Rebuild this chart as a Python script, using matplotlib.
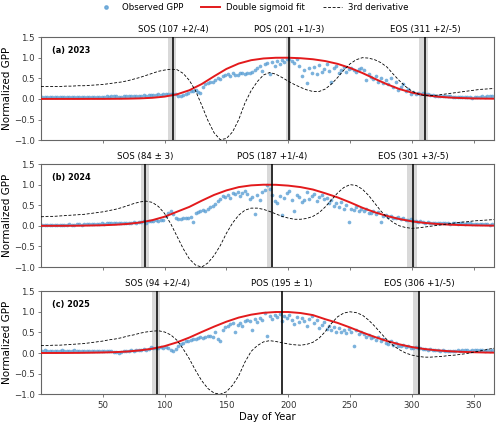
import numpy as np
import matplotlib
matplotlib.use("Agg")
import matplotlib.pyplot as plt
from matplotlib.lines import Line2D
import matplotlib.transforms as mtransforms

# Observed GPP, sampled every 2nd day (day 1, 3, ..., 365)
obs_days = np.arange(1, 366, 2)

obs_2023 = [
    0.04, 0.05, 0.04, 0.05, 0.04, 0.05, 0.04, 0.05, 0.04, 0.04,
    0.05, 0.04, 0.04, 0.05, 0.04, 0.04, 0.05, 0.04, 0.04, 0.05,
    0.05, 0.04, 0.05, 0.04, 0.05, 0.05, 0.06, 0.05, 0.06, 0.07,
    0.06, 0.05, 0.05, 0.06, 0.07, 0.07, 0.06, 0.07, 0.08, 0.07,
    0.08, 0.09, 0.08, 0.09, 0.10, 0.09, 0.10, 0.11, 0.10, 0.12,
    0.12, 0.11, 0.13, 0.12, 0.11, 0.07, 0.06, 0.09, 0.12, 0.15,
    0.18, 0.20, 0.22, 0.17, 0.14, 0.30, 0.35, 0.38, 0.42, 0.40,
    0.45, 0.50, 0.48, 0.55, 0.58, 0.60, 0.55, 0.62, 0.58, 0.57,
    0.62, 0.63, 0.61, 0.64, 0.62, 0.65, 0.70, 0.75, 0.80, 0.68,
    0.85, 0.88, 0.60, 0.90, 0.80, 0.92, 0.85, 0.95, 0.90, 0.97,
    0.98, 0.93, 0.88, 0.96, 0.80, 0.55, 0.70, 0.38, 0.75, 0.62,
    0.78, 0.60, 0.82, 0.65, 0.72, 0.85, 0.68, 0.40, 0.75, 0.80,
    0.62, 0.70, 0.78, 0.65, 0.72, 0.74, 0.70, 0.66, 0.72, 0.75,
    0.70, 0.45, 0.60, 0.52, 0.48, 0.55, 0.42, 0.50, 0.38, 0.45,
    0.35, 0.50, 0.28, 0.42, 0.22, 0.30, 0.35, 0.18, 0.25, 0.12,
    0.16, 0.13, 0.15, 0.12, 0.14, 0.12, 0.11, 0.10, 0.09, 0.08,
    0.08, 0.07, 0.07, 0.06, 0.06, 0.06, 0.05, 0.05, 0.04, 0.05,
    0.04, 0.05, 0.04, 0.04, 0.03, 0.04, 0.05, 0.04, 0.06, 0.05,
    0.06, 0.07, 0.06,
]

obs_2024 = [
    0.03, 0.02, 0.03, 0.02, 0.03, 0.03, 0.02, 0.03, 0.03, 0.02,
    0.03, 0.04, 0.03, 0.03, 0.04, 0.04, 0.03, 0.04, 0.05, 0.04,
    0.05, 0.04, 0.05, 0.05, 0.06, 0.05, 0.06, 0.07, 0.06, 0.07,
    0.07, 0.06, 0.07, 0.08, 0.07, 0.08, 0.07, 0.09, 0.08, 0.10,
    0.09, 0.11, 0.08, 0.12, 0.13, 0.12, 0.14, 0.13, 0.15, 0.14,
    0.25, 0.31, 0.36, 0.28, 0.18, 0.16, 0.17, 0.19, 0.20, 0.18,
    0.21, 0.09, 0.30, 0.33, 0.36, 0.38, 0.35, 0.42, 0.45, 0.48,
    0.52, 0.60, 0.65, 0.72, 0.70, 0.75, 0.68, 0.80, 0.77, 0.83,
    0.73, 0.80, 0.85, 0.78, 0.66, 0.70, 0.29, 0.75, 0.62, 0.82,
    0.86, 0.99, 0.90, 0.76, 0.60, 0.55, 0.72, 0.27, 0.68, 0.80,
    0.84, 0.62, 0.37, 0.75, 0.70, 0.58, 0.63, 0.82, 0.66, 0.72,
    0.78, 0.60, 0.70, 0.74, 0.64, 0.68, 0.56, 0.62, 0.48, 0.55,
    0.45, 0.58, 0.40, 0.50, 0.10, 0.42, 0.38, 0.45, 0.35, 0.40,
    0.36, 0.42, 0.32, 0.30, 0.36, 0.28, 0.33, 0.09, 0.25, 0.27,
    0.22, 0.25, 0.20, 0.18, 0.21, 0.17, 0.19, 0.15, 0.14, 0.16,
    0.12, 0.11, 0.10, 0.12, 0.09, 0.08, 0.10, 0.07, 0.08, 0.06,
    0.07, 0.06, 0.07, 0.08, 0.06, 0.05, 0.07, 0.06, 0.05, 0.06,
    0.07, 0.05, 0.06, 0.06, 0.05, 0.04, 0.05, 0.05, 0.04, 0.05,
    0.04, 0.03, 0.04,
]

obs_2025 = [
    0.06, 0.07, 0.06, 0.05, 0.06, 0.06, 0.05, 0.06, 0.07, 0.06,
    0.05, 0.06, 0.06, 0.07, 0.06, 0.06, 0.05, 0.06, 0.06, 0.05,
    0.06, 0.05, 0.06, 0.05, 0.05, 0.05, 0.06, 0.05, 0.04, 0.03,
    0.02, 0.01, 0.02, 0.04, 0.05, 0.06, 0.07, 0.06, 0.08, 0.07,
    0.08, 0.09, 0.08, 0.10, 0.14, 0.12, 0.11, 0.13, 0.14, 0.12,
    0.15, 0.13, 0.08, 0.06, 0.10, 0.18, 0.21, 0.24, 0.28, 0.30,
    0.32, 0.33, 0.34, 0.36, 0.38, 0.37, 0.39, 0.41, 0.42, 0.40,
    0.50, 0.35, 0.28, 0.55, 0.62, 0.65, 0.70, 0.72, 0.50, 0.68,
    0.74, 0.65, 0.78, 0.80, 0.77, 0.55, 0.82, 0.75, 0.85, 0.80,
    0.98, 0.42, 0.90, 0.82, 0.92, 0.88, 0.95, 0.78, 0.90, 0.85,
    0.92, 0.80, 0.70, 0.88, 0.75, 0.85, 0.78, 0.66, 0.82, 0.90,
    0.72, 0.80, 0.60, 0.68, 0.75, 0.58, 0.65, 0.55, 0.62, 0.52,
    0.60, 0.50, 0.55, 0.48, 0.58, 0.52, 0.17, 0.55, 0.45, 0.50,
    0.47, 0.40, 0.44, 0.36, 0.38, 0.32, 0.40, 0.28, 0.35, 0.25,
    0.22, 0.30, 0.20, 0.24, 0.18, 0.16, 0.20, 0.14, 0.17, 0.13,
    0.12, 0.14, 0.11, 0.13, 0.10, 0.09, 0.08, 0.10, 0.07, 0.08,
    0.07, 0.06, 0.07, 0.06, 0.05, 0.06, 0.05, 0.06, 0.07, 0.06,
    0.07, 0.08, 0.07, 0.06, 0.07, 0.08, 0.07, 0.08, 0.07, 0.06,
    0.07, 0.06, 0.07,
]

# Double sigmoid fit, every 10 days (day 0 ... 370)
fit_days = np.arange(0, 371, 10)

fit_2023 = [0, 0, 0, 0, 0.001, 0.001, 0.003, 0.006, 0.013, 0.027,
            0.056, 0.111, 0.210, 0.360, 0.548, 0.727, 0.858, 0.939, 0.981, 0.998,
            0.999, 0.987, 0.962, 0.918, 0.850, 0.752, 0.629, 0.489, 0.355, 0.239,
            0.154, 0.095, 0.058, 0.034, 0.021, 0.011, 0.007, 0.004]
fit_2024 = [0.001, 0.001, 0.002, 0.004, 0.009, 0.015, 0.027, 0.047, 0.081, 0.138,
            0.222, 0.342, 0.46, 0.61, 0.75, 0.86, 0.94, 0.982, 0.998, 0.996,
            0.976, 0.940, 0.881, 0.79, 0.69, 0.57, 0.44, 0.33, 0.24, 0.165,
            0.11, 0.073, 0.047, 0.030, 0.019, 0.012, 0.007, 0.005]
fit_2025 = [0.001, 0.001, 0.002, 0.004, 0.008, 0.013, 0.022, 0.037, 0.064, 0.104,
            0.167, 0.259, 0.375, 0.51, 0.64, 0.76, 0.86, 0.93, 0.975, 0.995,
            0.995, 0.97, 0.92, 0.82, 0.73, 0.62, 0.50, 0.39, 0.29, 0.21,
            0.145, 0.098, 0.066, 0.044, 0.029, 0.019, 0.012, 0.008]

# Scaled 3rd derivative, every 5 days (day 0 ... 370)
d3_days = np.arange(0, 371, 5)

d3_2023 = [0.30, 0.30, 0.30, 0.30, 0.31, 0.31, 0.32, 0.32, 0.33, 0.34,
           0.35, 0.37, 0.39, 0.41, 0.44, 0.48, 0.52, 0.57, 0.62, 0.67,
           0.70, 0.72, 0.71, 0.62, 0.45, 0.20, -0.15, -0.52, -0.82, -0.99,
           -0.96, -0.80, -0.50, -0.10, 0.20, 0.42, 0.58, 0.64, 0.60, 0.52,
           0.43, 0.35, 0.28, 0.22, 0.18, 0.18, 0.24, 0.36, 0.52, 0.70,
           0.85, 0.95, 1.0, 0.99, 0.95, 0.88, 0.77, 0.60, 0.44, 0.30,
           0.19, 0.12, 0.08, 0.08, 0.09, 0.11, 0.13, 0.15, 0.17, 0.19,
           0.21, 0.23, 0.24, 0.25, 0.26]
d3_2024 = [0.22, 0.23, 0.23, 0.24, 0.25, 0.26, 0.27, 0.28, 0.30, 0.32,
           0.34, 0.37, 0.40, 0.44, 0.49, 0.54, 0.58, 0.60, 0.57, 0.47,
           0.30, 0.05, -0.25, -0.55, -0.80, -0.95, -1.0, -0.90, -0.72, -0.48,
           -0.18, 0.07, 0.26, 0.38, 0.43, 0.43, 0.40, 0.35, 0.29, 0.23,
           0.19, 0.16, 0.16, 0.18, 0.23, 0.32, 0.46, 0.63, 0.80, 0.93,
           1.0, 0.98, 0.89, 0.74, 0.55, 0.36, 0.20, 0.08, 0.0, -0.04,
           -0.06, -0.05, -0.03, -0.01, 0.01, 0.03, 0.05, 0.07, 0.09, 0.10,
           0.12, 0.13, 0.14, 0.15, 0.16]
d3_2025 = [0.18, 0.18, 0.19, 0.19, 0.20, 0.21, 0.22, 0.23, 0.25, 0.27,
           0.29, 0.32, 0.34, 0.37, 0.41, 0.44, 0.48, 0.51, 0.53, 0.54,
           0.51, 0.44, 0.31, 0.10, -0.14, -0.42, -0.67, -0.86, -0.97, -1.0,
           -0.94, -0.78, -0.55, -0.22, 0.04, 0.18, 0.27, 0.30, 0.28, 0.25,
           0.22, 0.20, 0.19, 0.21, 0.26, 0.36, 0.52, 0.72, 0.88, 0.97,
           1.0, 0.98, 0.92, 0.80, 0.65, 0.48, 0.32, 0.18, 0.08, 0.0,
           -0.05, -0.08, -0.10, -0.10, -0.09, -0.08, -0.06, -0.05, -0.03, -0.01,
           0.02, 0.05, 0.08, 0.11, 0.13]

# Phenology dates with (+, -) uncertainty
years = ["2023", "2024", "2025"]
panel_tags = ["(a)", "(b)", "(c)"]
pheno_names = ["SOS", "POS", "EOS"]
pheno_2023 = [(107, 2, 4), (201, 1, 3), (311, 2, 5)]
pheno_2024 = [(84, 3, 3), (187, 1, 4), (301, 3, 5)]
pheno_2025 = [(94, 2, 4), (195, 1, 1), (306, 1, 5)]

panels = [
    (obs_2023, fit_2023, d3_2023, pheno_2023),
    (obs_2024, fit_2024, d3_2024, pheno_2024),
    (obs_2025, fit_2025, d3_2025, pheno_2025),
]

obs_color = "#5b9fd4"
fit_color = "#e31a1c"
spine_color = "0.4"

fig = plt.figure(figsize=(5.0, 4.26), dpi=100)
left, width, height = 0.082, 0.906, 0.242
bottoms = [0.671, 0.373, 0.0745]

for i, (obs, fit, d3, pheno) in enumerate(panels):
    ax = fig.add_axes([left, bottoms[i], width, height])
    trans = mtransforms.blended_transform_factory(ax.transData, ax.transAxes)

    for name, (day, plus, minus) in zip(pheno_names, pheno):
        ax.axvspan(day - minus, day + plus, color="0.85", lw=0, zorder=0)
        ax.axvline(day, color="black", lw=1.1, zorder=5)
        if plus == minus:
            lab = f"{name} ({day} \u00b1 {plus})"
        else:
            lab = f"{name} ({day} +{plus}/-{minus})"
        ax.text(day, 1.03, lab, transform=trans, ha="center", va="bottom", fontsize=6.2)

    ax.scatter(obs_days, obs, s=7, color=obs_color, alpha=0.8, lw=0, zorder=2)
    ax.plot(fit_days, fit, color=fit_color, lw=1.4, zorder=3)
    ax.plot(d3_days, d3, color="black", lw=0.6, ls=(0, (3.5, 2)), zorder=4)

    ax.set_xlim(0, 366.5)
    ax.set_ylim(-1.0, 1.5)
    ax.set_yticks([-1.0, -0.5, 0.0, 0.5, 1.0, 1.5])
    ax.set_xticks([50, 100, 150, 200, 250, 300, 350])
    ax.tick_params(labelsize=6.2, labelcolor="0.2", color=spine_color,
                   length=2.5, width=0.6, pad=2)
    for sp in ax.spines.values():
        sp.set_color(spine_color)
        sp.set_linewidth(0.8)
    ax.set_ylabel("Normalized GPP", fontsize=7.5, labelpad=1.5)
    ax.text(0.025, 0.91, f"{panel_tags[i]} {years[i]}", transform=ax.transAxes,
            ha="left", va="top", fontsize=5.9, fontweight="bold")
    if i < 2:
        ax.set_xticklabels([])
    else:
        ax.set_xlabel("Day of Year", fontsize=7.2, labelpad=1.5)

handles = [
    Line2D([], [], marker="o", ls="none", markersize=2.4, color=obs_color, alpha=0.8),
    Line2D([], [], color=fit_color, lw=1.4),
    Line2D([], [], color="black", lw=0.6, ls=(0, (3.5, 2))),
]
labels = ["Observed GPP", "Double sigmoid fit", "3rd derivative"]
fig.legend(handles, labels, loc="upper center", bbox_to_anchor=(0.505, 1.012),
           ncol=3, frameon=False, fontsize=6.2, handlelength=2.3,
           handletextpad=0.7, columnspacing=2.0)

fig.savefig("out.png", dpi=100)
